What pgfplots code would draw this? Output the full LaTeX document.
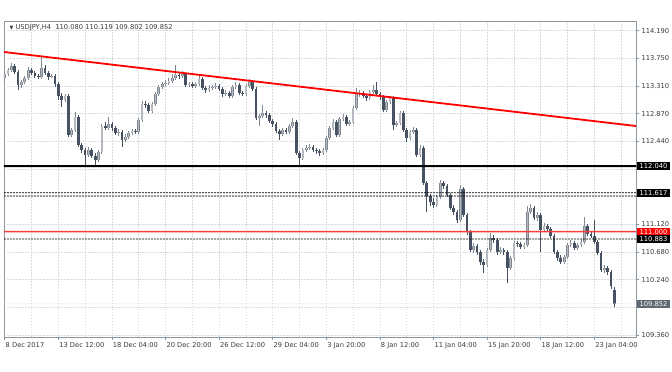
\documentclass[border=0pt]{standalone}
\usepackage{fontspec}
\setmainfont{DejaVu Sans}
\usepackage{pgfplots}
\usepackage{pgfplotstable}
\pgfplotsset{compat=1.18}
\definecolor{bearc}{HTML}{465161}
\definecolor{bullc}{HTML}{B4B9BF}
\definecolor{bullw}{HTML}{7F8790}
\definecolor{gridc}{HTML}{D8DCE0}
\definecolor{lastl}{HTML}{E4E7EA}
\definecolor{framec}{HTML}{8A96A0}
\definecolor{txt}{HTML}{3A3A3A}
\definecolor{lastc}{HTML}{5E6974}
\definecolor{hred}{HTML}{FF3C3C}
\pgfplotstableread{
i o h l c
0 113.439 113.534 113.407 113.502
1 113.502 113.598 113.471 113.566
2 113.566 113.677 113.534 113.629
5 113.328 113.407 113.280 113.375
6 113.375 113.471 113.344 113.439
7 113.439 113.613 113.407 113.566
11 113.455 113.772 113.423 113.598
14 113.455 113.502 113.439 113.471
18 113.090 113.185 113.058 113.153
20 112.534 112.645 112.502 112.613
21 112.613 112.899 112.582 112.820
25 112.217 112.344 112.185 112.296
28 112.137 112.296 112.106 112.264
29 112.264 112.709 112.233 112.677
31 112.645 112.820 112.613 112.709
34 112.566 112.629 112.518 112.582
36 112.455 112.550 112.423 112.502
37 112.502 112.598 112.471 112.566
38 112.566 112.629 112.534 112.598
40 112.582 112.804 112.550 112.772
41 112.772 113.074 112.740 113.026
44 112.915 113.058 112.883 113.026
45 113.026 113.217 112.994 113.185
46 113.185 113.328 113.153 113.296
47 113.296 113.375 113.264 113.344
48 113.344 113.407 113.312 113.360
49 113.360 113.439 113.328 113.391
50 113.391 113.502 113.360 113.439
51 113.439 113.645 113.407 113.486
53 113.471 113.550 113.439 113.502
55 113.328 113.375 113.296 113.344
57 113.312 113.375 113.280 113.344
58 113.344 113.471 113.312 113.423
61 113.248 113.328 113.217 113.280
62 113.280 113.328 113.248 113.296
63 113.296 113.360 113.264 113.312
66 113.185 113.248 113.153 113.201
68 113.153 113.328 113.121 113.296
69 113.296 113.375 113.264 113.328
72 113.185 113.344 113.153 113.312
73 113.312 113.423 113.280 113.375
76 112.804 112.867 112.677 112.836
77 112.836 113.010 112.804 112.883
83 112.550 112.645 112.518 112.613
85 112.582 112.709 112.550 112.677
86 112.677 112.804 112.645 112.740
89 112.169 112.328 112.137 112.296
90 112.296 112.375 112.264 112.328
91 112.328 112.391 112.296 112.344
95 112.248 112.328 112.217 112.296
96 112.296 112.518 112.264 112.486
97 112.486 112.677 112.455 112.645
98 112.645 112.788 112.613 112.740
100 112.534 112.820 112.502 112.788
101 112.788 112.867 112.756 112.820
103 112.709 112.772 112.677 112.740
104 112.740 112.994 112.709 112.963
105 112.963 113.280 112.931 113.185
106 113.185 113.248 113.137 113.201
109 113.121 113.248 113.090 113.217
110 113.217 113.328 113.185 113.248
114 112.931 113.090 112.899 113.058
115 113.058 113.153 113.026 113.121
117 112.693 112.756 112.661 112.725
118 112.725 112.915 112.693 112.883
121 112.486 112.613 112.455 112.582
122 112.582 112.661 112.550 112.613
124 112.217 112.375 112.185 112.328
129 111.423 111.582 111.391 111.550
130 111.550 111.820 111.518 111.772
136 111.185 111.740 111.153 111.677
140 110.709 110.820 110.661 110.772
144 110.471 110.740 110.439 110.709
145 110.709 110.979 110.677 110.899
148 110.677 110.756 110.645 110.709
151 110.423 110.613 110.391 110.582
152 110.582 110.852 110.550 110.820
155 110.756 110.820 110.725 110.788
156 110.788 111.407 110.756 111.312
157 111.312 111.439 111.280 111.375
159 111.217 111.312 111.169 111.264
161 111.026 111.137 110.994 111.090
167 110.518 110.629 110.486 110.598
168 110.598 110.820 110.566 110.788
169 110.788 110.867 110.756 110.820
171 110.740 110.820 110.709 110.788
172 110.788 110.883 110.756 110.836
173 110.836 111.233 110.804 111.090
179 110.391 110.471 110.344 110.423
}\bull
\pgfplotstableread{
i o h l c
3 113.629 113.661 113.502 113.534
4 113.534 113.566 113.248 113.328
8 113.566 113.598 113.486 113.518
9 113.518 113.550 113.439 113.471
10 113.471 113.502 113.423 113.455
12 113.598 113.645 113.486 113.518
13 113.518 113.550 113.407 113.455
15 113.471 113.502 113.296 113.344
16 113.344 113.375 113.090 113.153
17 113.153 113.201 112.979 113.090
19 113.153 113.185 112.502 112.534
22 112.820 112.852 112.344 112.375
23 112.375 112.407 112.248 112.296
24 112.296 112.328 112.058 112.217
26 112.296 112.328 112.169 112.201
27 112.201 112.248 112.042 112.137
30 112.677 112.740 112.613 112.645
32 112.709 112.740 112.598 112.645
33 112.645 112.677 112.534 112.566
35 112.582 112.613 112.344 112.455
39 112.598 112.629 112.550 112.582
42 113.026 113.074 112.963 113.010
43 113.010 113.042 112.883 112.915
52 113.486 113.534 113.423 113.471
54 113.502 113.518 113.296 113.328
56 113.344 113.375 113.280 113.312
59 113.423 113.455 113.248 113.280
60 113.280 113.312 113.201 113.248
64 113.312 113.344 113.233 113.264
65 113.264 113.296 113.137 113.185
67 113.201 113.233 113.121 113.153
70 113.328 113.360 113.169 113.201
71 113.201 113.233 113.153 113.185
74 113.375 113.407 113.233 113.264
75 113.264 113.296 112.772 112.804
78 112.883 112.915 112.804 112.852
79 112.852 112.883 112.725 112.756
80 112.756 112.788 112.661 112.709
81 112.709 112.740 112.566 112.598
82 112.598 112.629 112.455 112.550
84 112.613 112.645 112.550 112.582
87 112.740 112.772 112.217 112.248
88 112.248 112.280 112.058 112.169
92 112.344 112.375 112.264 112.296
93 112.296 112.328 112.233 112.280
94 112.280 112.312 112.201 112.248
99 112.740 112.772 112.502 112.534
102 112.820 112.852 112.677 112.709
107 113.201 113.233 113.121 113.153
108 113.153 113.185 113.074 113.121
111 113.248 113.375 113.153 113.185
112 113.185 113.217 113.090 113.137
113 113.137 113.169 112.899 112.931
116 113.121 113.153 112.613 112.693
119 112.883 112.915 112.582 112.613
120 112.613 112.645 112.423 112.486
123 112.613 112.645 112.185 112.217
125 112.328 112.360 111.740 111.772
126 111.772 111.804 111.312 111.566
127 111.566 111.598 111.407 111.471
128 111.471 111.534 111.375 111.423
131 111.772 111.804 111.677 111.725
132 111.725 111.756 111.550 111.582
133 111.582 111.614 111.344 111.375
134 111.375 111.423 111.264 111.312
135 111.312 111.344 111.137 111.185
137 111.677 111.709 111.233 111.264
138 111.264 111.296 110.947 110.994
139 110.994 111.026 110.677 110.709
141 110.772 110.804 110.629 110.677
142 110.677 110.709 110.471 110.518
143 110.518 110.566 110.344 110.471
146 110.899 110.947 110.820 110.867
147 110.867 110.899 110.629 110.677
149 110.709 110.740 110.629 110.677
150 110.677 110.709 110.185 110.423
153 110.820 110.852 110.756 110.804
154 110.804 110.836 110.725 110.756
158 111.375 111.407 111.185 111.217
160 111.264 111.296 110.677 111.026
162 111.090 111.121 110.994 111.042
163 111.042 111.074 110.899 110.931
164 110.931 110.963 110.645 110.677
165 110.677 110.709 110.534 110.582
166 110.582 110.629 110.486 110.518
170 110.820 110.852 110.709 110.740
174 111.090 111.121 110.931 110.963
175 110.963 111.010 110.899 110.931
176 110.931 111.185 110.804 110.836
177 110.836 110.867 110.629 110.661
178 110.661 110.693 110.360 110.391
180 110.423 110.455 110.312 110.360
181 110.360 110.391 110.090 110.137
182 110.080 110.119 109.802 109.852
}\bear
\begin{document}
\begin{tikzpicture}[font=\fontsize{6.7}{8}\selectfont]
\useasboundingbox (-4pt,-35pt) rectangle (668pt,337pt);
\begin{axis}[
  at={(0,0)}, anchor=south west,
  width=632pt, height=316pt, scale only axis,
  xmin=-0.21, xmax=188.45, ymin=109.328, ymax=114.344,
  clip mode=individual,
  axis line style={framec, line width=0.8pt},
  xtick={0,16,...,176},
  xticklabels={8 Dec 2017,13 Dec 12:00,18 Dec 04:00,20 Dec 20:00,26 Dec 12:00,29 Dec 04:00,3 Jan 20:00,8 Jan 12:00,11 Jan 04:00,15 Jan 20:00,18 Jan 12:00,23 Jan 04:00},
  minor xtick={8,24,...,184},
  ytick={109.361,109.800,110.239,110.678,111.117,111.556,111.995,112.434,112.873,113.312,113.751,114.190},
  yticklabels={109.360,,110.240,110.680,111.120,,,112.440,112.870,113.310,113.750,114.190},
  xtick pos=left, ytick pos=right, yticklabel pos=right,
  tick align=outside,
  major tick length=3pt, minor tick length=0pt,
  tick style={framec, line width=0.6pt},
  grid=both,
  major grid style={gridc, dash pattern=on 1.5pt off 1.5pt, line width=0.5pt},
  minor grid style={gridc, dash pattern=on 1.5pt off 1.5pt, line width=0.5pt},
  xticklabel style={anchor=north west, xshift=-2.5pt, yshift=1pt, text=txt},
  yticklabel style={text=txt, xshift=-1pt},
  /pgf/number format/assume math mode=true,
]
\addplot[bullw, line width=0.8pt, no marks, quiver={u=0,v=\thisrow{h}-\thisrow{l}}] table[x=i,y=l]{\bull};
\addplot[bearc, line width=0.8pt, no marks, quiver={u=0,v=\thisrow{h}-\thisrow{l}}] table[x=i,y=l]{\bear};
\addplot[bullw, line width=2.7pt, no marks, quiver={u=0,v=\thisrow{c}-\thisrow{o}}] table[x=i,y=o]{\bull};
\addplot[bullc, line width=1.3pt, no marks, quiver={u=0,v=\thisrow{c}-\thisrow{o}}] table[x=i,y=o]{\bull};
\addplot[bearc, line width=2.7pt, no marks, quiver={u=0,v=\thisrow{c}-\thisrow{o}}] table[x=i,y=o]{\bear};
\addplot[lastl, line width=0.5pt, no marks] coordinates {(-0.21,109.852) (188.45,109.8525)};
\addplot[hred, line width=1.6pt, no marks] coordinates {(-0.21,111.000) (188.45,111.0005)};
\addplot[red, line width=1.8pt, no marks] coordinates {(-0.21,113.852) (188.45,112.677)};
\addplot[black, line width=1.8pt, no marks] coordinates {(-0.21,112.040) (188.45,112.0405)};
\addplot[black, line width=0.8pt, no marks, dash pattern=on 2pt off 1pt] coordinates {(-0.21,111.617) (188.45,111.6175)};
\addplot[black, line width=0.8pt, no marks, dash pattern=on 2pt off 1pt] coordinates {(-0.21,111.565) (188.45,111.5655)};
\addplot[black, line width=0.8pt, no marks, dash pattern=on 2pt off 1pt] coordinates {(-0.21,110.883) (188.45,110.8835)};
\node[fill=black, text=white, anchor=west, inner xsep=2.6pt, inner ysep=1.2pt, xshift=0.8pt] at (axis cs:188.45,112.040) {112.040};
\node[fill=black, text=white, anchor=west, inner xsep=2.6pt, inner ysep=1.2pt, xshift=0.8pt] at (axis cs:188.45,111.617) {111.617};
\node[fill=red, text=white, anchor=west, inner xsep=2.6pt, inner ysep=1.2pt, xshift=0.8pt] at (axis cs:188.45,111.000) {111.000};
\node[fill=black, text=white, anchor=west, inner xsep=2.6pt, inner ysep=1.2pt, xshift=0.8pt] at (axis cs:188.45,110.883) {110.883};
\node[fill=lastc, text=white, anchor=west, inner xsep=2.6pt, inner ysep=1.2pt, xshift=0.8pt] at (axis cs:188.45,109.852) {109.852};
\node[anchor=west, text=txt, xshift=2pt, yshift=-7pt] at (rel axis cs:0,1) {{\fontsize{5}{5}\selectfont ▼}\ USDJPY,H4\ \ 110.080 110.119 109.802 109.852};
\end{axis}
\end{tikzpicture}
\end{document}
